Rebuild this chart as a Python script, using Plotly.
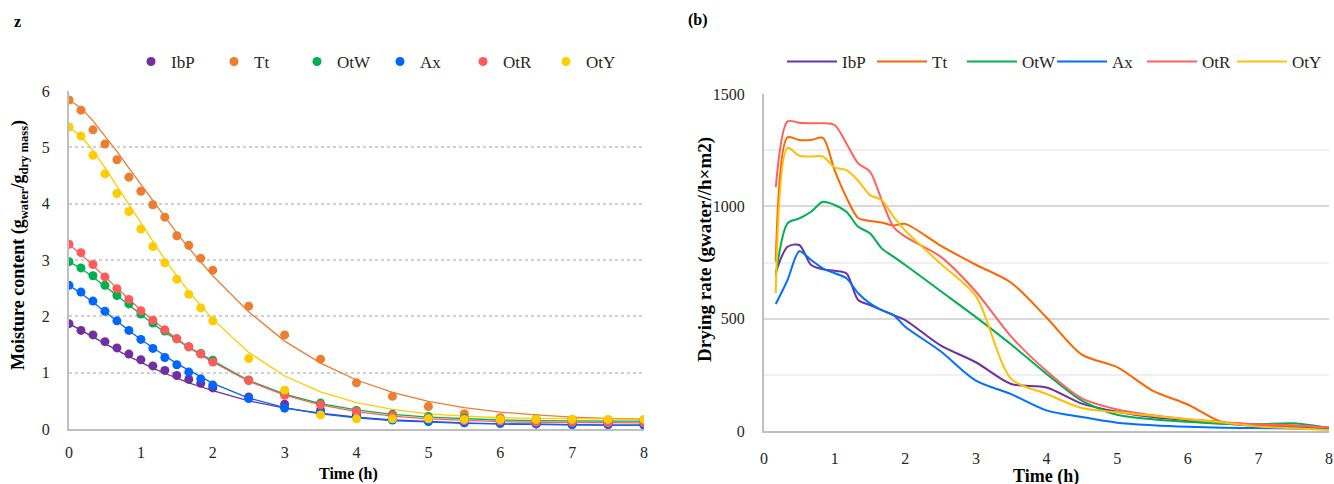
import plotly.graph_objects as go

# ---------------- data: left panel (moisture content) ----------------
t_mc = [0, 0.1667, 0.3333, 0.5, 0.6667, 0.8333, 1, 1.1667, 1.3333, 1.5, 1.6667, 1.8333, 2,
        2.5, 3, 3.5, 4, 4.5, 5, 5.5, 6, 6.5, 7, 7.5, 8]

IbP_mc = [1.87, 1.75, 1.67, 1.55, 1.44, 1.33, 1.23, 1.12, 1.04, 0.95, 0.88, 0.81, 0.73,
          0.57, 0.44, 0.33, 0.25, 0.19, 0.15, 0.12, 0.10, 0.09, 0.08, 0.08, 0.07]
Tt_mc = [5.84, 5.66, 5.31, 5.06, 4.78, 4.47, 4.22, 3.98, 3.76, 3.43, 3.26, 3.03, 2.82,
         2.18, 1.67, 1.24, 0.82, 0.58, 0.40, 0.27, 0.20, 0.18, 0.17, 0.16, 0.16]
OtW_mc = [2.97, 2.86, 2.72, 2.55, 2.37, 2.22, 2.04, 1.88, 1.74, 1.60, 1.46, 1.34, 1.22,
          0.87, 0.63, 0.46, 0.33, 0.26, 0.22, 0.19, 0.17, 0.16, 0.15, 0.15, 0.15]
Ax_mc = [2.55, 2.43, 2.27, 2.09, 1.92, 1.75, 1.59, 1.43, 1.27, 1.14, 1.01, 0.89, 0.78,
         0.54, 0.37, 0.29, 0.22, 0.16, 0.13, 0.11, 0.10, 0.09, 0.08, 0.08, 0.07]
OtR_mc = [3.28, 3.13, 2.92, 2.70, 2.49, 2.30, 2.10, 1.93, 1.76, 1.60, 1.46, 1.33, 1.19,
          0.86, 0.60, 0.43, 0.31, 0.24, 0.19, 0.15, 0.14, 0.12, 0.12, 0.11, 0.11]
OtY_mc = [5.36, 5.20, 4.86, 4.53, 4.18, 3.86, 3.55, 3.24, 2.95, 2.66, 2.39, 2.15, 1.92,
          1.25, 0.69, 0.25, 0.18, 0.18, 0.18, 0.17, 0.17, 0.17, 0.17, 0.17, 0.17]

# fitted model curves
IbP_fit = [1.87, 1.75, 1.63, 1.51, 1.40, 1.29, 1.18, 1.08, 0.99, 0.90, 0.82, 0.75, 0.68,
           0.50, 0.37, 0.28, 0.21, 0.16, 0.13, 0.11, 0.09, 0.08, 0.08, 0.07, 0.07]
Tt_fit = [5.84, 5.70, 5.47, 5.21, 4.93, 4.63, 4.34, 4.05, 3.76, 3.48, 3.21, 2.96, 2.72,
          2.08, 1.56, 1.17, 0.87, 0.65, 0.49, 0.38, 0.30, 0.25, 0.21, 0.19, 0.18]
OtW_fit = [2.97, 2.85, 2.70, 2.54, 2.37, 2.20, 2.03, 1.87, 1.72, 1.58, 1.45, 1.33, 1.21,
           0.86, 0.62, 0.45, 0.34, 0.26, 0.21, 0.18, 0.16, 0.15, 0.14, 0.14, 0.14]
Ax_fit = [2.55, 2.41, 2.25, 2.08, 1.91, 1.75, 1.59, 1.44, 1.30, 1.16, 1.04, 0.92, 0.81,
          0.55, 0.38, 0.27, 0.20, 0.15, 0.12, 0.10, 0.09, 0.08, 0.08, 0.07, 0.07]
OtR_fit = [3.28, 3.10, 2.90, 2.70, 2.50, 2.30, 2.11, 1.93, 1.76, 1.60, 1.45, 1.31, 1.19,
           0.85, 0.60, 0.43, 0.31, 0.23, 0.18, 0.15, 0.13, 0.12, 0.12, 0.11, 0.11]
OtY_fit = [5.36, 5.20, 4.94, 4.64, 4.31, 3.98, 3.65, 3.32, 3.01, 2.72, 2.44, 2.19, 1.95,
           1.36, 0.94, 0.66, 0.47, 0.35, 0.27, 0.23, 0.20, 0.19, 0.18, 0.175, 0.17]

# ---------------- data: right panel (drying rate) ----------------
t_rate = [0.1667, 0.3333, 0.5, 0.6667, 0.8333, 1, 1.1667, 1.3333, 1.5, 1.6667, 1.8333, 2,
          2.5, 3, 3.5, 4, 4.5, 5, 5.5, 6, 6.5, 7, 7.5, 8]

IbP_rate = [705, 820, 828, 739, 720, 713, 702, 583, 561, 538, 516, 494,
            381, 306, 209, 194, 122, 86, 62, 48, 33, 22, 17, 9]
Tt_rate = [753, 1307, 1295, 1295, 1305, 1160, 1040, 948, 935, 928, 915, 922,
           825, 740, 660, 505, 340, 284, 180, 118, 38, 30, 22, 16]
OtW_rate = [690, 924, 946, 976, 1020, 1006, 976, 909, 880, 813, 776, 739,
            623, 507, 385, 254, 135, 72, 52, 41, 32, 30, 34, 13]
Ax_rate = [565, 672, 800, 761, 724, 702, 680, 613, 568, 538, 516, 464,
           355, 224, 164, 92, 62, 37, 26, 19, 15, 13, 11, 9]
OtR_rate = [1085, 1378, 1372, 1370, 1370, 1362, 1280, 1191, 1154, 1028, 909, 865,
            776, 620, 420, 267, 145, 96, 70, 52, 40, 30, 26, 16]
OtY_rate = [613, 1260, 1225, 1222, 1222, 1173, 1161, 1114, 1050, 1028, 954, 892,
            745, 600, 232, 165, 102, 83, 68, 52, 38, 20, 12, 4]

names = ["IbP", "Tt", "OtW", "Ax", "OtR", "OtY"]
mc_points = [IbP_mc, Tt_mc, OtW_mc, Ax_mc, OtR_mc, OtY_mc]
mc_fits = [IbP_fit, Tt_fit, OtW_fit, Ax_fit, OtR_fit, OtY_fit]
rates = [IbP_rate, Tt_rate, OtW_rate, Ax_rate, OtR_rate, OtY_rate]

colors_left = ["#7030A0", "#ED7D31", "#00B050", "#0066FF", "#FF5B5B", "#FFCC00"]
colors_right = ["#7030A0", "#FF6600", "#00B050", "#0070FF", "#FF6161", "#FFC000"]

FONT = "'Liberation Serif', 'Times New Roman', 'DejaVu Serif', serif"
TXT = "#262626"
W, H = 1334, 484

fig = go.Figure()

for name, fit, col in zip(names, mc_fits, colors_left):
    fig.add_trace(go.Scatter(x=t_mc, y=fit, mode="lines", line=dict(color=col, width=1.3),
                             showlegend=False, hoverinfo="skip", xaxis="x", yaxis="y"))
for name, pts, col in zip(names, mc_points, colors_left):
    fig.add_trace(go.Scatter(x=t_mc, y=pts, mode="markers", name=name,
                             marker=dict(color=col, size=9), legend="legend",
                             xaxis="x", yaxis="y"))
for name, r, col in zip(names, rates, colors_right):
    fig.add_trace(go.Scatter(x=t_rate, y=r, mode="lines", name=name,
                             line=dict(color=col, width=2, shape="spline", smoothing=0.8),
                             legend="legend2", xaxis="x2", yaxis="y2"))

def px_x(p):
    return p / W

def px_y(p):
    return (H - p) / H

axis_font = dict(family=FONT, size=16, color=TXT)

fig.update_layout(
    width=W, height=H,
    margin=dict(l=0, r=0, t=0, b=0, pad=0, autoexpand=False),
    paper_bgcolor="white", plot_bgcolor="white",
    font=dict(family=FONT, color=TXT),
    xaxis=dict(domain=[px_x(69), px_x(644)], range=[0, 8], dtick=1, showgrid=False,
               zeroline=False, showline=True, linecolor="#BFBFBF", linewidth=2,
               ticks="", tickfont=axis_font, ticklabelstandoff=8, automargin=False),
    yaxis=dict(domain=[px_y(429), px_y(91)], range=[0, 6], dtick=1, showgrid=True,
               gridcolor="#D0D0D0", griddash="dot", gridwidth=1.5, zeroline=False,
               showline=True, linecolor="#BFBFBF", linewidth=2, ticks="",
               tickfont=axis_font, ticklabelstandoff=14, automargin=False),
    xaxis2=dict(domain=[px_x(764), px_x(1329)], range=[0, 8], dtick=1, showgrid=False,
                zeroline=False, showline=True, linecolor="#BFBFBF", linewidth=2,
                ticks="", tickfont=axis_font, ticklabelstandoff=12, anchor="y2",
                automargin=False),
    yaxis2=dict(domain=[px_y(431), px_y(94)], range=[0, 1500], dtick=500, showgrid=True,
                gridcolor="#D9D9D9", gridwidth=2, zeroline=False,
                minor=dict(dtick=250, showgrid=True, gridcolor="#F0F0F0", gridwidth=2),
                showline=True, linecolor="#BFBFBF", linewidth=2, ticks="",
                tickfont=axis_font, ticklabelstandoff=14, anchor="x2", automargin=False),
    legend=dict(orientation="h", x=px_x(131), xanchor="left", y=px_y(62), yanchor="middle",
                font=dict(family=FONT, size=17, color=TXT), itemwidth=30,
                entrywidth=38, entrywidthmode="pixels",
                bgcolor="rgba(0,0,0,0)"),
    legend2=dict(orientation="h", x=px_x(782), xanchor="left", y=px_y(62), yanchor="middle",
                 font=dict(family=FONT, size=17, color=TXT), itemwidth=50,
                 entrywidth=25, entrywidthmode="pixels",
                 bgcolor="rgba(0,0,0,0)"),
    annotations=[
        dict(text="<b>z</b>", x=px_x(12), y=px_y(22), xref="paper", yref="paper",
             xanchor="left", yanchor="middle", showarrow=False,
             font=dict(family=FONT, size=16, color="#000")),
        dict(text="<b>(b)</b>", x=px_x(686), y=px_y(20), xref="paper", yref="paper",
             xanchor="left", yanchor="middle", showarrow=False,
             font=dict(family=FONT, size=16, color="#000")),
        dict(text="<b>Moisture content (g<sub>water</sub>/g<sub>dry mass</sub>)</b>",
             x=px_x(19), y=px_y(245), xref="paper", yref="paper", textangle=-90,
             xanchor="center", yanchor="middle", showarrow=False,
             font=dict(family=FONT, size=18, color="#000")),
        dict(text="<b>Time (h)</b>", x=px_x(348), y=px_y(474), xref="paper", yref="paper",
             xanchor="center", yanchor="middle", showarrow=False,
             font=dict(family=FONT, size=16, color="#000")),
        dict(text="<b>Drying rate (gwater//h×m2)</b>",
             x=px_x(705), y=px_y(250), xref="paper", yref="paper", textangle=-90,
             xanchor="center", yanchor="middle", showarrow=False,
             font=dict(family=FONT, size=19, color="#000")),
        dict(text="<b>Time (h)</b>", x=px_x(1046), y=px_y(476), xref="paper", yref="paper",
             xanchor="center", yanchor="middle", showarrow=False,
             font=dict(family=FONT, size=18, color="#000")),
    ],
)

fig.write_html("out.html", config={"displayModeBar": False},
               post_script="document.body.style.margin='0';")
